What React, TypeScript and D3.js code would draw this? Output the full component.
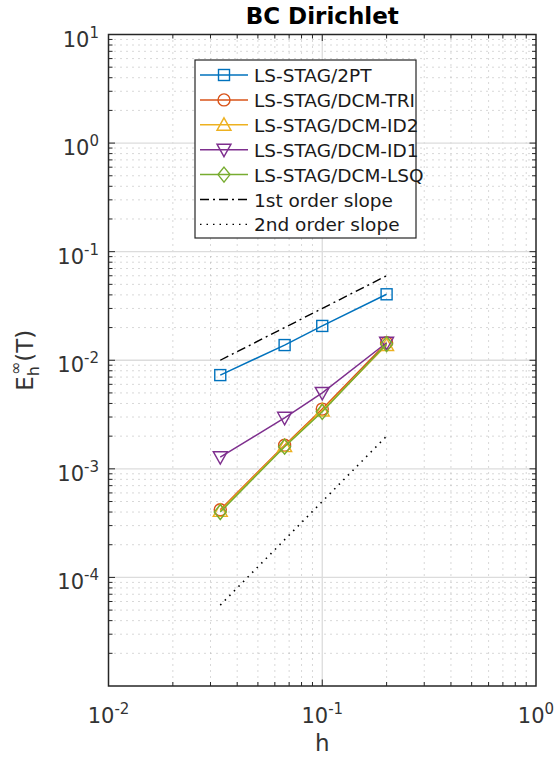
import React from "react";
import * as d3 from "d3";

const hValues = [1 / 30, 1 / 15, 1 / 10, 1 / 5];
const err2PT = [7.3e-3, 0.0138, 0.0207, 0.0405];
const errTRI = [4.2e-4, 1.65e-3, 3.55e-3, 0.0145];
const errID2 = [4.1e-4, 1.62e-3, 3.45e-3, 0.0138];
const errID1 = [1.28e-3, 2.95e-3, 5.0e-3, 0.0145];
const errLSQ = [4.0e-4, 1.6e-3, 3.35e-3, 0.0141];
const slopeH = [1 / 30, 1 / 5];
const slope1 = [0.01, 0.06];
const slope2 = [5.56e-5, 2.0e-3];

const seriesNames = ["LS-STAG/2PT", "LS-STAG/DCM-TRI", "LS-STAG/DCM-ID2", "LS-STAG/DCM-ID1", "LS-STAG/DCM-LSQ"];
const slopeNames = ["1st order slope", "2nd order slope"];
const xTickExps = [-2, -1, 0];
const yTickExps = [-4, -3, -2, -1, 0, 1];

const colors = ["#0072BD", "#D95319", "#EDB120", "#7E2F8E", "#77AC30"];
const markers = ["square", "circle", "triangle", "triangleDown", "diamond"];

const W = 557, H = 760;
const L = 108.5, R = 536, T = 34.5, B = 686;
const FONT = "DejaVu Sans";

function Marker({ type, x, y, color }: { type: string; x: number; y: number; color: string }) {
  const common = { fill: "none", stroke: color, strokeWidth: 1.4 };
  if (type === "square") return <rect x={x - 5.5} y={y - 5.5} width={11} height={11} {...common} />;
  if (type === "circle") return <circle cx={x} cy={y} r={6} {...common} />;
  if (type === "triangle")
    return <path d={`M${x},${y - 7}L${x + 7},${y + 5.5}L${x - 7},${y + 5.5}Z`} {...common} />;
  if (type === "triangleDown")
    return <path d={`M${x},${y + 7}L${x + 7},${y - 5.5}L${x - 7},${y - 5.5}Z`} {...common} />;
  return <path d={`M${x},${y - 7.5}L${x + 6},${y}L${x},${y + 7.5}L${x - 6},${y}Z`} {...common} />;
}

export default function App() {
  const x = d3.scaleLog().domain([1e-2, 1]).range([L, R]);
  const y = d3.scaleLog().domain([1e-5, 10]).range([B, T]);

  const xMinor: number[] = [];
  for (let e = -2; e < 0; e++) for (let m = 2; m <= 9; m++) xMinor.push(m * Math.pow(10, e));
  const yMinor: number[] = [];
  for (let e = -5; e < 1; e++) for (let m = 2; m <= 9; m++) yMinor.push(m * Math.pow(10, e));
  const xMajor = [0.1];
  const yMajor = [1e-4, 1e-3, 1e-2, 1e-1, 1];

  const allSeries = [err2PT, errTRI, errID2, errID1, errLSQ];
  const line = d3
    .line<[number, number]>()
    .x((d) => x(d[0]))
    .y((d) => y(d[1]));

  const axisColor = "#262626";
  const legX = 195, legY = 60, legW = 221, legH = 178, rowH = 24.9;

  return (
    <svg width={W} height={H} style={{ position: "absolute", left: 0, top: 0 }} fontFamily={FONT}>
      <rect x={0} y={0} width={W} height={H} fill="#fff" />
      {xMinor.map((v, i) => (
        <line key={"xm" + i} x1={x(v)} x2={x(v)} y1={T} y2={B} stroke="#b0b0b0" strokeWidth={1} strokeDasharray="1 5" />
      ))}
      {yMinor.map((v, i) => (
        <line key={"ym" + i} x1={L} x2={R} y1={y(v)} y2={y(v)} stroke="#b0b0b0" strokeWidth={1} strokeDasharray="1 5" />
      ))}
      {xMajor.map((v, i) => (
        <line key={"xM" + i} x1={x(v)} x2={x(v)} y1={T} y2={B} stroke="#dcdcdc" strokeWidth={1.3} />
      ))}
      {yMajor.map((v, i) => (
        <line key={"yM" + i} x1={L} x2={R} y1={y(v)} y2={y(v)} stroke="#dcdcdc" strokeWidth={1.3} />
      ))}

      {xMinor.map((v, i) => (
        <g key={"xt" + i} stroke={axisColor} strokeWidth={1}>
          <line x1={x(v)} x2={x(v)} y1={B} y2={B - 4} />
          <line x1={x(v)} x2={x(v)} y1={T} y2={T + 4} />
        </g>
      ))}
      {xMajor.map((v, i) => (
        <g key={"xT" + i} stroke={axisColor} strokeWidth={1}>
          <line x1={x(v)} x2={x(v)} y1={B} y2={B - 6.5} />
          <line x1={x(v)} x2={x(v)} y1={T} y2={T + 6.5} />
        </g>
      ))}
      {yMinor.map((v, i) => (
        <g key={"yt" + i} stroke={axisColor} strokeWidth={1}>
          <line x1={L} x2={L + 4} y1={y(v)} y2={y(v)} />
          <line x1={R} x2={R - 4} y1={y(v)} y2={y(v)} />
        </g>
      ))}
      {yMajor.map((v, i) => (
        <g key={"yT" + i} stroke={axisColor} strokeWidth={1}>
          <line x1={L} x2={L + 6.5} y1={y(v)} y2={y(v)} />
          <line x1={R} x2={R - 6.5} y1={y(v)} y2={y(v)} />
        </g>
      ))}

      {allSeries.map((vals, si) => {
        const pts = hValues.map((h, i) => [h, vals[i]] as [number, number]);
        return (
          <g key={"s" + si}>
            <path d={line(pts) || ""} fill="none" stroke={colors[si]} strokeWidth={1.5} />
            {pts.map((p, i) => (
              <Marker key={i} type={markers[si]} x={x(p[0])} y={y(p[1])} color={colors[si]} />
            ))}
          </g>
        );
      })}
      <path
        d={line(slopeH.map((h, i) => [h, slope1[i]] as [number, number])) || ""}
        fill="none"
        stroke="#000"
        strokeWidth={1.4}
        strokeDasharray="9 4 2 4"
      />
      <path
        d={line(slopeH.map((h, i) => [h, slope2[i]] as [number, number])) || ""}
        fill="none"
        stroke="#000"
        strokeWidth={1.6}
        strokeDasharray="1.5 5"
      />

      <rect x={L} y={T} width={R - L} height={B - T} fill="none" stroke={axisColor} strokeWidth={1.5} />

      {yTickExps.map((e) => (
        <text key={"yl" + e} x={99} y={y(Math.pow(10, e)) + 12} textAnchor="end" fontSize={21} fill="#333">
          <tspan>10</tspan>
          <tspan dy={-9} fontSize={15}>{e < 0 ? "-" + Math.abs(e) : String(e)}</tspan>
        </text>
      ))}
      {xTickExps.map((e) => (
        <text key={"xl" + e} x={x(Math.pow(10, e))} y={723} textAnchor="middle" fontSize={21} fill="#333">
          <tspan>10</tspan>
          <tspan dy={-9} fontSize={15}>{e < 0 ? "-" + Math.abs(e) : String(e)}</tspan>
        </text>
      ))}

      <text x={(L + R) / 2} y={751} textAnchor="middle" fontSize={23} fill="#333">h</text>
      <text transform={`translate(33,${(T + B) / 2}) rotate(-90)`} textAnchor="middle" fontSize={23} fill="#333">
        <tspan>E</tspan>
        <tspan dy={6} fontSize={16}>h</tspan>
        <tspan dx={-9} dy={-18} fontSize={16}>∞</tspan>
        <tspan dy={12}>(T)</tspan>
      </text>

      <text x={(L + R) / 2} y={24} textAnchor="middle" fontSize={23} fontWeight="bold" fill="#000">BC Dirichlet</text>

      <rect x={legX} y={legY} width={legW} height={legH} fill="#fff" stroke={axisColor} strokeWidth={1.2} />
      {seriesNames.map((n, i) => {
        const cy = legY + 15 + i * rowH;
        return (
          <g key={"lg" + i}>
            <line x1={200} x2={248} y1={cy} y2={cy} stroke={colors[i]} strokeWidth={1.5} />
            <Marker type={markers[i]} x={224} y={cy} color={colors[i]} />
            <text x={254} y={cy + 7} fontSize={18.5} fill="#1a1a1a">{n}</text>
          </g>
        );
      })}
      {slopeNames.map((n, j) => {
        const cy = legY + 15 + (j + 5) * rowH;
        return (
          <g key={"ls" + j}>
            <line
              x1={200}
              x2={248}
              y1={cy}
              y2={cy}
              stroke="#000"
              strokeWidth={1.4}
              strokeDasharray={j === 0 ? "9 4 2 4" : "1.5 5"}
            />
            <text x={254} y={cy + 7} fontSize={18.5} fill="#1a1a1a">{n}</text>
          </g>
        );
      })}
    </svg>
  );
}
